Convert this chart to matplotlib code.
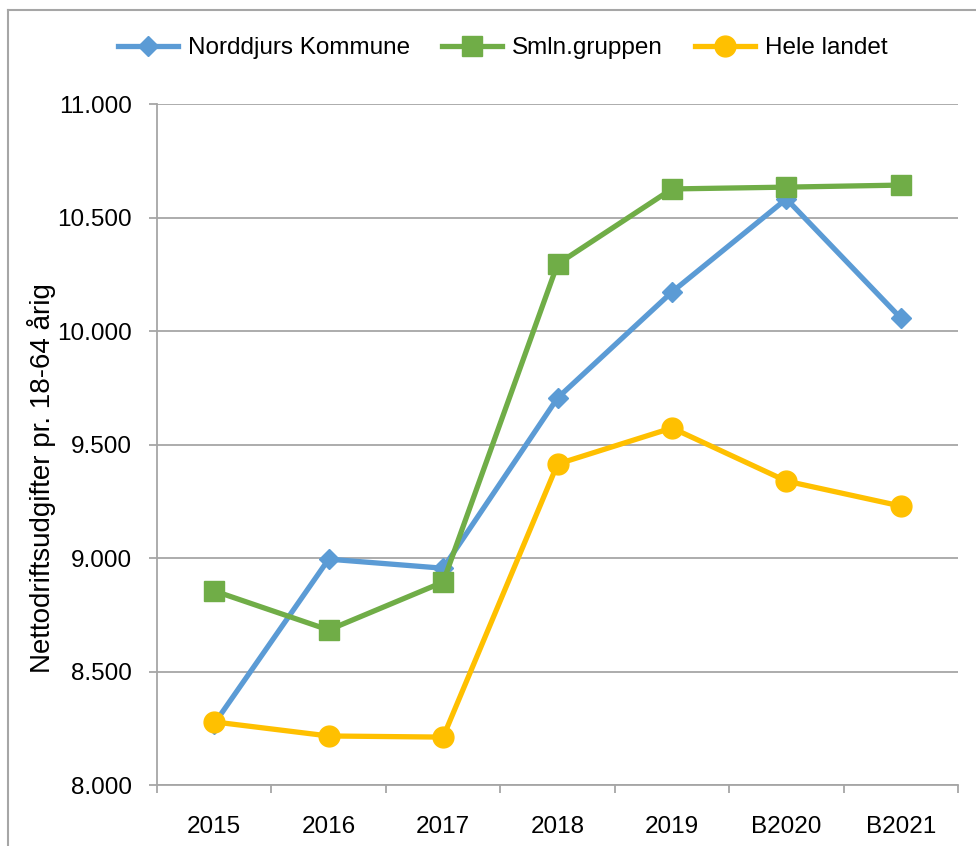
import matplotlib.pyplot as plt
import numpy as np
from matplotlib.ticker import FuncFormatter, FixedLocator

plt.rcParams['font.family'] = ['Liberation Sans', 'DejaVu Sans']

years = ['2015', '2016', '2017', '2018', '2019', 'B2020', 'B2021']
norddjurs = [8270, 8995, 8955, 9705, 10172, 10582, 10057]
smln = [8855, 8683, 8894, 10295, 10626, 10634, 10643]
hele = [8278, 8216, 8211, 9414, 9573, 9339, 9229]

fig = plt.figure(figsize=(9.76, 8.46), dpi=100)
ax = fig.add_axes([0.1609, 0.0721, 0.8207, 0.8049])

x = np.arange(len(years))
ax.plot(x, norddjurs, color='#5B9BD5', lw=3.8, marker='D', ms=10, label='Norddjurs Kommune', zorder=3)
ax.plot(x, smln, color='#70AD47', lw=3.8, marker='s', ms=14, label='Smln.gruppen', zorder=3)
ax.plot(x, hele, color='#FFC000', lw=3.8, marker='o', ms=15, label='Hele landet', zorder=3)

ax.set_xlim(-0.5, len(years) - 0.5)
ax.set_ylim(8000, 11000)
ax.set_yticks(np.arange(8000, 11001, 500))
ax.yaxis.set_major_formatter(FuncFormatter(lambda v, p: f'{int(v):,}'.replace(',', '.')))
ax.set_xticks(x)
ax.set_xticklabels(years)
ax.xaxis.set_minor_locator(FixedLocator(np.arange(-0.5, len(years), 1)))

ax.grid(axis='y', color='#A6A6A6', lw=1.3)
ax.set_axisbelow(True)
for s in ['top', 'right']:
    ax.spines[s].set_visible(False)
for s in ['left', 'bottom']:
    ax.spines[s].set_color('#A6A6A6')
    ax.spines[s].set_linewidth(1.3)

ax.tick_params(axis='x', which='major', length=0, pad=22, labelsize=17.5)
ax.tick_params(axis='x', which='minor', length=6, width=1.3, color='#A6A6A6')
ax.tick_params(axis='y', length=6, width=1.3, color='#A6A6A6', pad=12, labelsize=17.5)

ax.set_ylabel('Nettodriftsudgifter pr. 18-64 årig', fontsize=20)
ax.yaxis.set_label_coords(-0.126, 0.451)

fig.legend(loc='center', bbox_to_anchor=(0.515, 0.943), ncol=3, frameon=False,
           fontsize=17.5, handlelength=2.5, columnspacing=1.3, handletextpad=0.4)

# border of the chart area
fig.add_artist(plt.Line2D([0.0082, 0.0082], [0, 0.988], color='#A6A6A6', lw=1.5, transform=fig.transFigure))
fig.add_artist(plt.Line2D([0.0082, 1], [0.988, 0.988], color='#A6A6A6', lw=1.5, transform=fig.transFigure))

fig.savefig('out.png', dpi=100)
